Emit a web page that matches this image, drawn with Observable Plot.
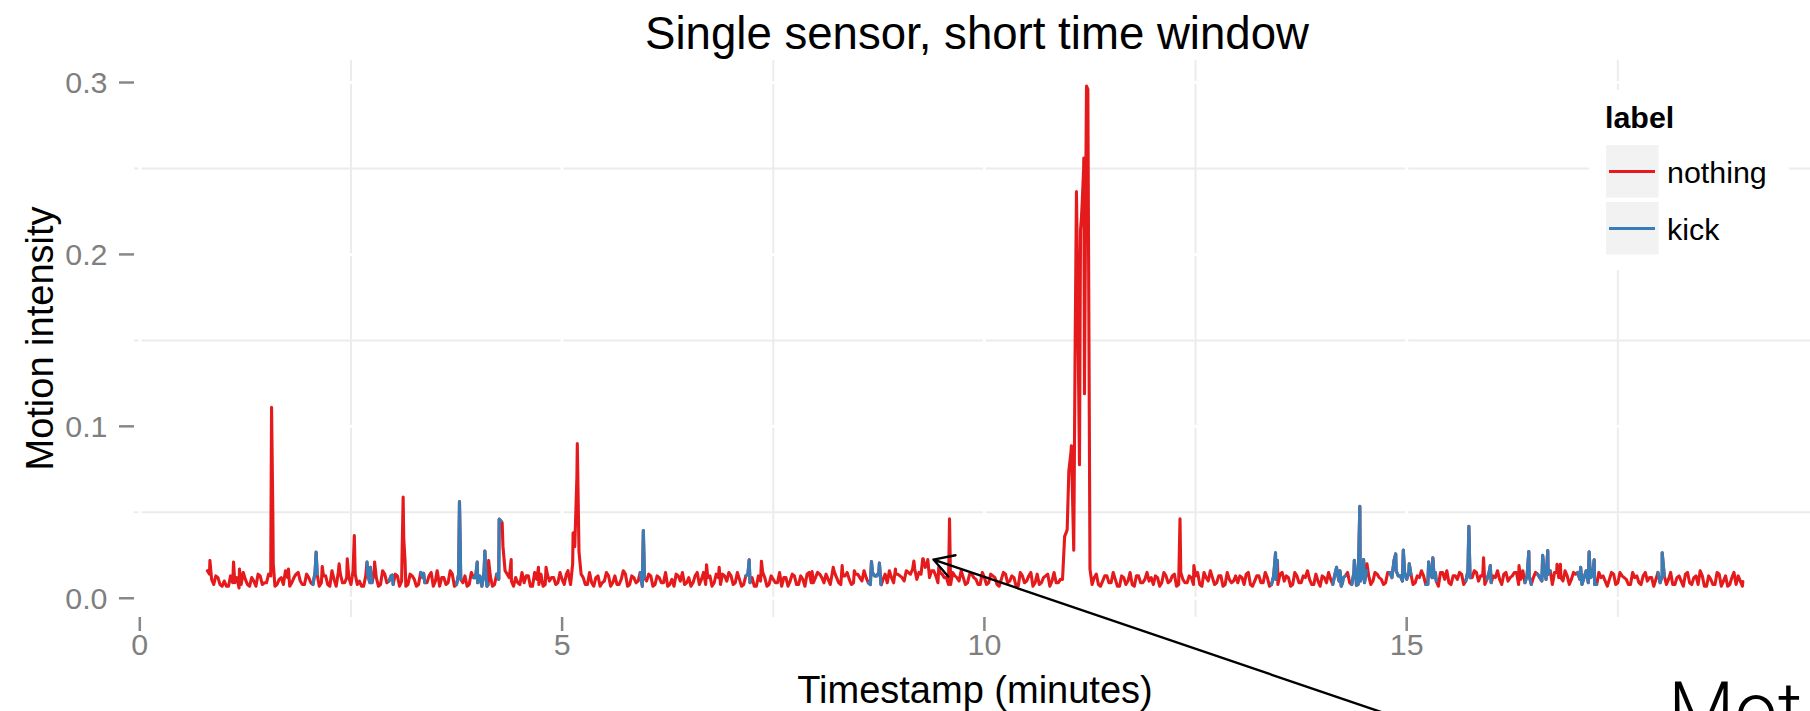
<!DOCTYPE html>
<html><head><meta charset="utf-8">
<script src="https://cdn.jsdelivr.net/npm/d3@7"></script>
<script src="https://cdn.jsdelivr.net/npm/@observablehq/plot@0.6"></script>
<style>html,body{margin:0;padding:0;background:#fff;overflow:hidden;} #chart{width:1810px;height:711px;overflow:hidden;}</style>
</head><body><div id="chart"></div>
<script>
// ---------- text ----------
const chartTitle = "Single sensor, short time window";
const xTitle = "Timestamp (minutes)";
const yTitle = "Motion intensity";
const legendTitle = "label";
const categories = ["nothing", "kick"];
const palette = ["#E41A1C", "#377EB8"];
const bottomRightText = "Mot";

// ---------- ticks ----------
const xMajor = [0, 5, 10, 15];
const xTickLabels = ["0", "5", "10", "15"];
const xMinor = [2.5, 7.5, 12.5, 17.5];
const yMajor = [0, 0.1, 0.2, 0.3];
const yTickLabels = ["0.0", "0.1", "0.2", "0.3"];
const yMinor = [0.05, 0.15, 0.25];

// ---------- data ----------
// regular samples: first timestamp (minutes) and spacing (minutes)
const sampleStart = 0.80;
const sampleStep = 0.05;
// samples at 0.80, 0.85, ... 18.95
const intensity = [
  .016, .011, .013, .008,
  .010, .007, .009, .012, .008, .011, .007, .010, .014, .008, .009, .013, .007, .011, .008, .012, .009, .014, .010, .008,
  .012, .008, .014, .009, .013, .007, .011, .015, .009, .012, .008, .014, .010, .007, .013, .009, .012, .008, .014, .010,
  .008, .013, .010, .007, .014, .011, .008, .012, .009, .015, .010, .007, .012, .009, .014, .008, .011, .013, .008, .012,
  .009, .007, .012, .013, .008, .011, .030, .014, .010, .012, .008, .009, .013, .007, .011, .014, .008, .010, .012, .009,
  .011, .014, .008, .030, .027, .012, .008, .009, .012, .007, .010, .013, .009, .008, .011, .014, .008, .012, .010, .007,
  .010, .013, .008, .012, .009, .007, .011, .014, .010, .008, .012, .009, .015, .011, .008, .013, .009, .012, .014, .010,
  .013, .009, .011, .008, .014, .012, .007, .010, .012, .008, .011, .009, .007, .012, .010, .013, .008, .011, .014, .009,
  .012, .014, .009, .011, .015, .012, .008, .013, .011, .009, .014, .010, .012, .008, .013, .015, .011, .009, .012, .014,
  .013, .010, .015, .017, .011, .014, .018, .012, .016, .009, .014, .012, .008, .013, .010, .012, .009, .014, .011, .008,
  .012, .009, .013, .008, .011, .014, .010, .012, .007, .013, .010, .015, .009, .008, .012, .014, .010, .009, .011, .036,
  .074, .045, .200, .222, .240, .017, .012, .008, .010, .013, .009, .011, .007, .012, .010, .008, .013, .009, .011, .010,
  .008, .012, .009, .013, .010, .014, .008, .011, .009, .012, .013, .008, .015, .010, .012, .009, .013, .008, .011, .010,
  .009, .012, .014, .008, .010, .013, .009, .012, .008, .011, .014, .010, .012, .008, .013, .009, .012, .011, .008, .010,
  .013, .009, .011, .014, .010, .012, .015, .008, .012, .010, .009, .013, .010, .014, .011, .009, .015, .022, .013, .010,
  .011, .014, .009, .012, .013, .008, .012, .010, .015, .011, .009, .013, .011, .014, .010, .012, .016, .010, .013, .011,
  .009, .012, .011, .014, .010, .013, .015, .011, .009, .013, .012, .014, .010, .011, .016, .015, .012, .010, .013, .011,
  .014, .011, .012, .009, .013, .008, .012, .010, .011, .014, .009, .013, .011, .008, .012, .009, .013, .010, .012, .011,
  .009, .013, .011, .008, .012, .010, .014, .009, .012, .008, .013, .007, .011, .008, .014, .010, .007, .012, .008, .010
];
// in-between samples at 0.825, 0.875, ... 18.975
const intensityMid = [
  .014, .008, .012, .007,
  .007, .013, .009, .006, .015, .008, .012, .007, .013, .009, .014, .050, .008, .012, .016, .007, .012, .015, .008, .014,
  .009, .015, .007, .013, .008, .016, .007, .014, .009, .012, .016, .008, .007, .013, .009, .015, .007, .016, .009, .013,
  .014, .007, .035, .008, .013, .007, .015, .009, .013, .007, .015, .012, .008, .016, .007, .014, .009, .007, .015, .012,
  .013, .015, .008, .007, .014, .045, .016, .012, .007, .009, .015, .013, .007, .015, .008, .007, .014, .012, .008, .015,
  .008, .014, .020, .070, .014, .008, .015, .007, .013, .009, .015, .007, .013, .008, .016, .007, .013, .009, .015, .012,
  .014, .007, .013, .009, .015, .008, .007, .013, .015, .009, .007, .013, .008, .015, .012, .007, .014, .008, .013, .015,
  .008, .015, .007, .013, .009, .007, .013, .015, .007, .013, .009, .015, .012, .007, .014, .008, .013, .007, .015, .009,
  .015, .012, .014, .008, .015, .009, .013, .015, .008, .014, .012, .016, .009, .015, .013, .008, .014, .016, .009, .014,
  .012, .016, .014, .017, .015, .023, .021, .016, .013, .015, .012, .008, .015, .012, .016, .008, .014, .012, .008, .015,
  .008, .014, .012, .007, .015, .009, .013, .007, .015, .009, .013, .007, .014, .009, .013, .007, .015, .009, .011, .039,
  .085, .150, .080, .250, .296, .008, .014, .007, .013, .009, .015, .007, .013, .008, .015, .007, .013, .009, .015, .012,
  .013, .007, .015, .009, .013, .007, .015, .009, .013, .008, .015, .007, .012, .016, .008, .013, .007, .015, .009, .013,
  .013, .008, .015, .007, .013, .009, .015, .007, .013, .008, .015, .013, .007, .015, .009, .013, .016, .008, .014, .007,
  .012, .015, .008, .015, .007, .013, .009, .015, .008, .013, .016, .008, .015, .012, .008, .015, .012, .016, .013, .015,
  .015, .008, .013, .016, .008, .015, .012, .007, .015, .016, .008, .013, .015, .008, .016, .012, .015, .013, .008, .015,
  .013, .016, .008, .015, .012, .015, .008, .016, .013, .008, .015, .012, .016, .014, .008, .015, .012, .016, .008, .015,
  .015, .008, .016, .012, .008, .015, .013, .007, .015, .008, .015, .012, .008, .015, .013, .008, .015, .012, .007, .015,
  .013, .008, .015, .008, .013, .007, .015, .008, .013, .016, .007, .013, .008, .015, .007, .013, .008, .015, .013, .007
];
// irregular peaks between the regular samples
const peakTime = [0.83, 1.11, 1.18, 1.56, 1.58, 1.76, 2.088, 2.16, 2.36, 2.456, 2.54, 2.69, 2.73, 2.78, 2.99,
  3.105, 3.118, 3.14, 3.36, 3.52, 3.785, 3.995, 4.086, 4.11, 4.13, 4.255, 4.29, 4.397, 4.72, 4.81,
  5.07, 5.13, 5.18, 5.962, 6.71, 6.86, 7.215, 7.36, 7.96, 8.21, 8.316, 8.46, 8.663, 8.757, 8.78, 8.947,
  9.165, 9.27, 9.33, 9.46, 9.587, 10.98, 11.03, 11.058, 11.09, 11.126, 11.138, 11.158, 11.177, 11.185,
  11.209, 11.225, 12.316, 12.48, 13.447, 13.47, 14.17, 14.21, 14.24, 14.38, 14.405, 14.445, 14.49, 14.53,
  14.87, 14.96, 15.03, 15.26, 15.31, 15.34, 15.736, 15.91, 15.99, 16.33, 16.446, 16.61, 16.67, 16.78, 16.82,
  17.06, 17.16, 17.22, 17.24, 18.025, 18.98];
const peakValue = [0.022, 0.021, 0.017, 0.111, 0.020, 0.017, 0.0268, 0.0185, 0.020, 0.023, 0.0365, 0.021, 0.018, 0.021, 0.0135,
  0.025, 0.0588, 0.022, 0.0145, 0.016, 0.0563, 0.021, 0.0275, 0.007, 0.022, 0.046, 0.044, 0.0225, 0.018, 0.018,
  0.016, 0.038, 0.090, 0.0394, 0.0195, 0.018, 0.0223, 0.0215, 0.0155, 0.018, 0.019, 0.016, 0.0213, 0.0205, 0.0078, 0.017,
  0.0217, 0.023, 0.0225, 0.018, 0.0462, 0.040, 0.0887, 0.028, 0.2365, 0.0777, 0.214, 0.230, 0.256, 0.119,
  0.298, 0.295, 0.0462, 0.019, 0.0264, 0.022, 0.018, 0.016, 0.009, 0.022, 0.0075, 0.0535, 0.0225, 0.020,
  0.0258, 0.0281, 0.020, 0.021, 0.0235, 0.015, 0.0419, 0.0235, 0.019, 0.019, 0.0272, 0.025, 0.0277, 0.0198, 0.0198,
  0.018, 0.027, 0.0224, 0.008, 0.0264, 0.0097];
// time windows (minutes) labelled "kick"
const kickWindows = [[2.04, 2.09], [2.68, 2.735], [2.94, 2.995], [3.31, 3.365], [3.735, 3.79], [3.95, 4.115],
  [4.205, 4.26], [5.91, 5.965], [7.165, 7.22], [8.61, 8.765], [13.40, 13.45], [14.12, 14.25], [14.33, 14.50],
  [14.80, 15.035], [15.21, 15.345], [15.686, 15.74], [15.94, 15.995], [16.396, 16.45], [16.55, 16.675],
  [17.01, 17.245], [17.975, 18.03]];
// annotation arrow: [time, intensity] of tail and tip
const arrowTail = [16.11, -0.0898];
const arrowTip = [9.397, 0.0225];

// ---------- build table ----------
const rows = intensity.map((v, i) => ({t: sampleStart + i * sampleStep, v}))
  .concat(intensityMid.map((v, i) => ({t: sampleStart + sampleStep / 2 + i * sampleStep, v})))
  .concat(peakTime.map((t, i) => ({t, v: peakValue[i]})))
  .sort((a, b) => a.t - b.t);
rows.forEach(d => {
  d.label = kickWindows.some(([a, b]) => d.t >= a - 1e-9 && d.t <= b + 1e-9) ? "kick" : "nothing";
});
const kickRows = [];
let run = 0;
for (let i = 0; i < rows.length; ++i) {
  if (rows[i].label === "kick" && (i === 0 || rows[i - 1].label !== "kick")) {
    run++;
    let j = i;
    while (j < rows.length && rows[j].label === "kick") { kickRows.push({...rows[j], run}); j++; }
    if (j < rows.length) kickRows.push({...rows[j], run});
  }
}

// ---------- plot ----------
const W = 1810, H = 711, mL = 134, mR = 0, mT = 60, mB = 94;
const xDomain = [-0.0628, 19.781];
const yDomain = [-0.0112, 0.3128];
const font = "'Liberation Sans', Arial, Helvetica, sans-serif";

const chart = Plot.plot({
  width: W, height: H,
  marginLeft: mL, marginRight: mR, marginTop: mT, marginBottom: mB,
  style: {fontFamily: font, background: "white", color: "black"},
  x: {domain: xDomain, axis: null},
  y: {domain: yDomain, axis: null},
  marks: [
    Plot.ruleX(xMinor, {stroke: "#ececec", strokeWidth: 2}),
    Plot.ruleY(yMinor, {stroke: "#ececec", strokeWidth: 2}),
    Plot.ruleX(xMajor, {stroke: "#ffffff", strokeWidth: 3}),
    Plot.ruleY(yMajor, {stroke: "#ffffff", strokeWidth: 3}),
    // axis ticks
    Plot.ruleX(xMajor, {stroke: "#888888", strokeWidth: 2.5, insetTop: H - mT - mB, insetBottom: -14}),
    Plot.ruleY(yMajor, {stroke: "#888888", strokeWidth: 2.5, insetLeft: -15, insetRight: W - mL - mR}),
    Plot.text(xMajor, {x: d => d, text: (d, i) => xTickLabels[i], frameAnchor: "bottom", dy: 37.3,
      fontSize: 30.4, fill: "#7f7f7f"}),
    Plot.text(yMajor, {y: d => d, text: (d, i) => yTickLabels[i], frameAnchor: "left", dx: -27, dy: 1,
      textAnchor: "end", fontSize: 30.4, fill: "#7f7f7f"}),
    // data
    Plot.line(rows, {x: "t", y: "v", stroke: palette[0], strokeWidth: 3.1}),
    Plot.line(kickRows, {x: "t", y: "v", z: "run", stroke: palette[1], strokeWidth: 3.1}),
    // annotation arrow
    Plot.arrow([{tail: arrowTail, tip: arrowTip}], {
      x1: d => d.tail[0], y1: d => d.tail[1], x2: d => d.tip[0], y2: d => d.tip[1],
      stroke: "black", strokeWidth: 2.4, headLength: 14, headAngle: 60
    })
  ]
});

const svg = d3.select(chart);
svg.attr("overflow", "hidden").style("overflow", "hidden");
const addText = (sel, x, y, txt, size, opts = {}) => sel.append("text")
  .attr("x", x).attr("y", y).attr("text-anchor", opts.anchor || "start")
  .attr("font-family", opts.family || font).attr("font-size", size)
  .attr("font-weight", opts.weight || "normal").attr("fill", "black")
  .attr("transform", opts.transform || null).text(txt);

addText(svg, 977, 48.5, chartTitle, 45.6, {anchor: "middle"});
addText(svg, 975, 703, xTitle, 38, {anchor: "middle"});
addText(svg, 0, 0, yTitle, 38, {anchor: "middle", transform: "translate(52.7,338.5) rotate(-90)"});

// legend
const lg = svg.append("g");
lg.append("rect").attr("x", 1589).attr("y", 90).attr("width", 200).attr("height", 180).attr("fill", "white");
addText(lg, 1605, 128, legendTitle, 30.4, {weight: "bold"});
categories.forEach((c, i) => {
  const y0 = 145 + i * 57;
  lg.append("rect").attr("x", 1606).attr("y", y0).attr("width", 52.5).attr("height", 52.5).attr("fill", "#f2f2f2");
  lg.append("line").attr("x1", 1609).attr("x2", 1655).attr("y1", y0 + 26.5).attr("y2", y0 + 26.5)
    .attr("stroke", palette[i]).attr("stroke-width", 3);
  addText(lg, 1667, y0 + 38, c, 30.4);
});

addText(svg, 1668, 737, bottomRightText, 77, {family: "Roboto, 'Liberation Sans', sans-serif", weight: 300});

document.getElementById("chart").appendChild(chart);
</script></body></html>
